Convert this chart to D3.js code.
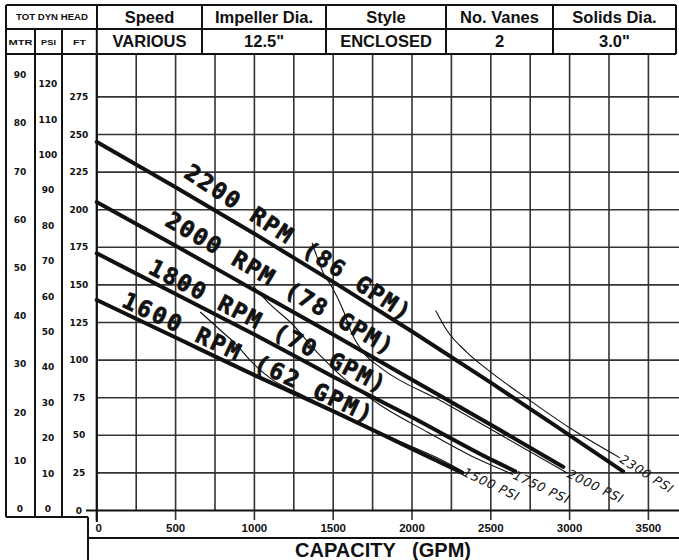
<!DOCTYPE html>
<html><head><meta charset="utf-8">
<script src="https://cdn.jsdelivr.net/npm/d3@7"></script>
<style>body{margin:0;background:#fff}svg{display:block}</style>
</head><body>
<svg id="c" width="679" height="560"></svg>
<script>
// ---- header table ----
const headTitles = ["Speed", "Impeller Dia.", "Style", "No. Vanes", "Solids Dia."];
const headValues = ["VARIOUS", "12.5\"", "ENCLOSED", "2", "3.0\""];
const headSub = ["MTR", "PSI", "FT"];

// ---- axes ----
const capTicks = [0, 500, 1000, 1500, 2000, 2500, 3000, 3500];
const ftTicks = [0, 25, 50, 75, 100, 125, 150, 175, 200, 225, 250, 275];
const mtrTicks = [0, 10, 20, 30, 40, 50, 60, 70, 80, 90];
const psiTicks = [0, 10, 20, 30, 40, 50, 60, 70, 80, 90, 100, 110, 120];

// ---- head curves (GPM, FT) ----
const rpmLabels = ["2200 RPM (86 GPM)", "2000 RPM (78 GPM)", "1800 RPM (70 GPM)", "1600 RPM (62 GPM)"];
const q2200 = [0, 500, 1000, 1500, 2000, 2500, 3000, 3340];
const h2200 = [245, 215, 184, 152, 119, 85, 50, 26];
const q2000 = [0, 500, 1000, 1500, 2000, 2500, 2960];
const h2000 = [205, 176, 146.5, 117, 87, 57, 29];
const q1800 = [0, 500, 1000, 1500, 2000, 2500, 2655];
const h1800 = [171, 144, 117, 89, 62, 34, 26];
const q1600 = [0, 500, 1000, 1500, 2000, 2320];
const h1600 = [140, 115, 90, 66, 41, 25];
// label baseline start / end positions (GPM, FT)
const labelQ0 = [545, 425, 318, 150];
const labelH0 = [222, 190, 158, 136];
const labelQ1 = [1950, 1845, 1800, 1720];
const labelH1 = [126, 103, 78, 58];

// ---- pressure limit curves (GPM, FT) ----
const psiLabels = ["2300 PSI", "2000 PSI", "1750 PSI", "1500 PSI"];
const psiAngles = [32, 26, 25, 25];
const q2300p = [2150, 2220, 2350, 2500, 2750, 3000, 3320];
const h2300p = [133, 120, 105, 92, 73, 55, 35];
const q2000p = [1366, 1437, 1501, 1564, 1617, 1700, 1800, 2200, 2600, 2985];
const h2000p = [178, 158, 147, 133, 118, 104, 95, 72, 48, 25];
const q1750p = [993, 1100, 1230, 1400, 1600, 1800, 2100, 2400, 2641];
const h1750p = [149, 137, 125, 105, 85, 70, 52, 35, 24];
const q1500p = [656, 783, 888, 972, 1100, 1300, 1600, 1900, 2150, 2323];
const h1500p = [132, 120, 110, 100, 88, 77, 62, 47, 35.5, 26];

const svg = d3.select("#c");
const x = d3.scaleLinear().domain([0, 3500]).range([96.8, 648.4]);
const y = d3.scaleLinear().domain([0, 275]).range([510.5, 96.9]);
const yM = d3.scaleLinear().domain([0, 90]).range([509, 75]);
const yP = d3.scaleLinear().domain([0, 120]).range([509, 84]);

const top0 = 5, mid = 29, bot = 54;
const colX = [6, 97, 202, 326, 446, 553, 676];
const subX = [6, 35, 62, 97];
const ink = "#111";

// grid
const g = svg.append("g");
const vq = d3.range(0, 3501, 250);
g.selectAll(".vg").data(vq).join("line")
  .attr("x1", d => x(d)).attr("x2", d => x(d))
  .attr("y1", bot).attr("y2", d => d % 500 === 0 ? 520 : y(0))
  .attr("stroke", "#333").attr("stroke-width", d => d === 0 ? 2 : 1.6);
g.selectAll(".hg").data(ftTicks.filter(d => d > 0)).join("line")
  .attr("x1", x(0)).attr("x2", 679).attr("y1", d => y(d)).attr("y2", d => y(d))
  .attr("stroke", "#333").attr("stroke-width", 1.6);
g.append("line").attr("x1", 86).attr("x2", 679).attr("y1", y(0)).attr("y2", y(0))
  .attr("stroke", ink).attr("stroke-width", 2);

// table and frame lines
const frame = [
  [colX[0], top0, colX[6], top0], [colX[0], mid, colX[6], mid], [colX[0], bot, colX[6], bot],
  [colX[0], top0, colX[0], 517], [subX[1], mid, subX[1], 517], [subX[2], mid, subX[2], 517],
  [colX[1], top0, colX[1], mid],
  [colX[2], top0, colX[2], bot], [colX[3], top0, colX[3], bot], [colX[4], top0, colX[4], bot],
  [colX[5], top0, colX[5], bot], [colX[6], top0, colX[6], bot],
  [colX[0], 517, 88, 517], [88, 517, 88, 560], [88, 538, 679, 538]
];
svg.append("g").selectAll("line").data(frame).join("line")
  .attr("x1", d => d[0]).attr("y1", d => d[1]).attr("x2", d => d[2]).attr("y2", d => d[3])
  .attr("stroke", ink).attr("stroke-width", 2);
svg.append("line").attr("x1", x(0)).attr("x2", x(0)).attr("y1", mid).attr("y2", 522)
  .attr("stroke", ink).attr("stroke-width", 2);

// header text
const ht = svg.append("g").attr("font-family", "Liberation Sans, Arial, sans-serif").attr("font-weight", "bold").attr("fill", ink);
ht.selectAll(".t").data(headTitles).join("text")
  .attr("x", (d, i) => (colX[i + 1] + colX[i + 2]) / 2).attr("y", 23)
  .attr("text-anchor", "middle").attr("font-size", 16.5).text(d => d);
ht.selectAll(".v").data(headValues).join("text")
  .attr("x", (d, i) => (colX[i + 1] + colX[i + 2]) / 2).attr("y", 47)
  .attr("text-anchor", "middle").attr("font-size", 16.5).text(d => d);
ht.append("text").attr("x", 52).attr("y", 20).attr("text-anchor", "middle")
  .attr("font-size", 8.5).attr("textLength", 72).attr("lengthAdjust", "spacingAndGlyphs").text("TOT DYN HEAD");
const subW = [24, 15, 13];
ht.selectAll(".s").data(headSub).join("text")
  .attr("x", (d, i) => (subX[i] + subX[i + 1]) / 2).attr("y", 45).attr("text-anchor", "middle")
  .attr("font-size", 8).attr("textLength", (d, i) => subW[i]).attr("lengthAdjust", "spacingAndGlyphs").text(d => d);

// y tick labels
const tk = svg.append("g").attr("font-family", "DejaVu Sans, sans-serif").attr("font-weight", "bold")
  .attr("font-size", 9).attr("fill", ink).attr("text-anchor", "middle");
tk.selectAll(".m").data(mtrTicks).join("text").attr("x", 20).attr("y", d => yM(d)).attr("dy", "0.35em").text(d => d);
tk.selectAll(".p").data(psiTicks).join("text").attr("x", 48).attr("y", d => yP(d)).attr("dy", "0.35em").text(d => d);
tk.selectAll(".f").data(ftTicks).join("text").attr("x", 79).attr("y", d => y(d)).attr("dy", "0.35em").text(d => d);

// x tick labels & title
const xt = svg.append("g").attr("font-family", "Liberation Sans, Arial, sans-serif").attr("font-weight", "bold").attr("fill", ink);
xt.selectAll("text").data(capTicks).join("text").attr("x", d => x(d) + (d === 0 ? 2 : 0)).attr("y", 532)
  .attr("text-anchor", "middle").attr("font-size", 11.5).text(d => d);
xt.append("text").attr("x", 383).attr("y", 557).attr("text-anchor", "middle").attr("font-size", 20)
  .attr("xml:space", "preserve").style("white-space", "pre").text("CAPACITY   (GPM)");

// curves
const line = d3.line().x(d => x(d[0])).y(d => y(d[1])).curve(d3.curveMonotoneX);
const heads = [[q2200, h2200], [q2000, h2000], [q1800, h1800], [q1600, h1600]];
const psis = [[q2300p, h2300p], [q2000p, h2000p], [q1750p, h1750p], [q1500p, h1500p]];
const cg = svg.append("g").attr("fill", "none");
cg.selectAll(".thin").data(psis).join("path")
  .attr("d", d => line(d3.zip(d[0], d[1]))).attr("stroke", ink).attr("stroke-width", 1.1);
cg.selectAll(".thick").data(heads).join("path")
  .attr("d", d => line(d3.zip(d[0], d[1]))).attr("stroke", ink).attr("stroke-width", 4).attr("stroke-linecap", "round");

// labels on head curves
const lg = svg.append("g").attr("font-family", "DejaVu Sans Mono, monospace").attr("font-weight", "bold")
  .attr("font-size", 23).attr("fill", ink).attr("stroke", ink).attr("stroke-width", 0.7);
rpmLabels.forEach((t, i) => {
  const px0 = x(labelQ0[i]), py0 = y(labelH0[i]);
  const px1 = x(labelQ1[i]), py1 = y(labelH1[i]);
  const ang = Math.atan2(py1 - py0, px1 - px0) * 180 / Math.PI;
  const len = Math.hypot(px1 - px0, py1 - py0);
  lg.append("text").attr("transform", `translate(${px0},${py0}) rotate(${ang})`)
    .attr("x", 0).attr("y", 0).attr("textLength", len).attr("lengthAdjust", "spacing")
    .text(t);
});

// labels on pressure curves
const pg = svg.append("g").attr("font-family", "DejaVu Sans, sans-serif").attr("font-style", "italic")
  .attr("font-size", 12.5).attr("fill", ink);
psis.forEach((c, i) => {
  const n = c[0].length - 1;
  const px = x(c[0][n]), py = y(c[1][n]);
  pg.append("text").attr("transform", `translate(${px + 1},${py}) rotate(${psiAngles[i]})`)
    .attr("x", 0).attr("dy", "0.35em").attr("textLength", 60).attr("lengthAdjust", "spacing")
    .text(psiLabels[i]);
});
</script>
</body></html>
